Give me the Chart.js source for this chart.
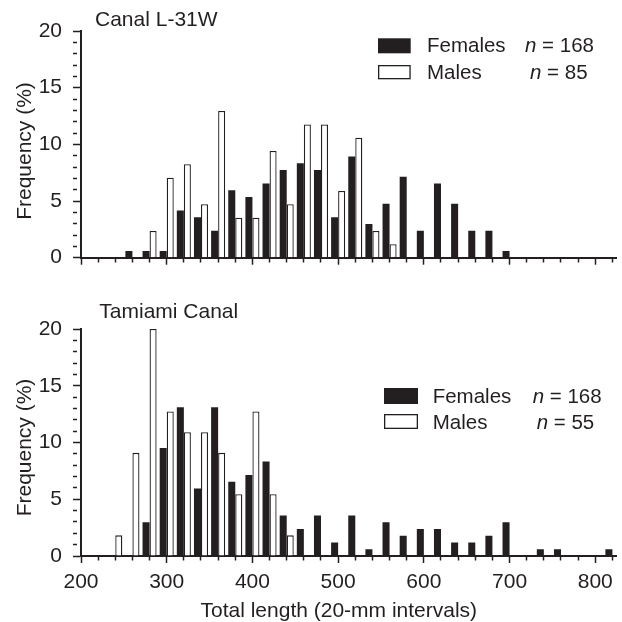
<!DOCTYPE html>
<html>
<head>
<meta charset="utf-8">
<script src="https://cdn.jsdelivr.net/npm/chart.js@4"></script>
<style>
  html, body { margin: 0; padding: 0; background: #ffffff; }
  #wrap { position: relative; width: 622px; height: 622px; overflow: hidden; }
  canvas { position: absolute; left: 0; }
  #c1 { top: 0; }
  #c2 { top: 290px; }
</style>
</head>
<body>
<div id="wrap">
  <canvas id="c1" width="622" height="290"></canvas>
  <canvas id="c2" width="622" height="332"></canvas>
</div>
<script>
// ---- data (frequency in %, per 20-mm length bin) ----
const bins = [200, 220, 240, 260, 280, 300, 320, 340, 360, 380, 400, 420, 440, 460, 480, 500,
              520, 540, 560, 580, 600, 620, 640, 660, 680, 700, 720, 740, 760, 780, 800, 820];

const canalFemales = [0, 0, 0, 0.6, 0.6, 0.6, 4.17, 3.57, 2.38, 5.95, 5.36, 6.55, 7.74, 8.33, 7.74, 3.57,
                      8.93, 2.98, 4.76, 7.14, 2.38, 6.55, 4.76, 2.38, 2.38, 0.6, 0, 0, 0, 0, 0, 0];
const canalMales   = [0, 0, 0, 0, 2.35, 7.06, 8.24, 4.71, 12.94, 3.53, 3.53, 9.41, 4.71, 11.76, 11.76, 5.88,
                      10.59, 2.35, 1.18, 0, 0, 0, 0, 0, 0, 0, 0, 0, 0, 0, 0, 0];

const tamiamiFemales = [0, 0, 0, 0, 2.98, 9.52, 13.10, 5.95, 13.10, 6.55, 7.14, 8.33, 3.57, 2.38, 3.57, 1.19,
                        3.57, 0.6, 2.98, 1.79, 2.38, 2.38, 1.19, 1.19, 1.79, 2.98, 0, 0.6, 0.6, 0, 0, 0.6];
const tamiamiMales   = [0, 0, 1.82, 9.09, 20.0, 12.73, 10.91, 10.91, 9.09, 5.45, 12.73, 5.45, 1.82, 0, 0, 0,
                        0, 0, 0, 0, 0, 0, 0, 0, 0, 0, 0, 0, 0, 0, 0, 0];

const panelTitles = ['Canal L-31W', 'Tamiami Canal'];
const seriesNames = ['Females', 'Males'];
const canalCounts = ['168', '85'];
const tamiamiCounts = ['168', '55'];
const yTitle = 'Frequency (%)';
const xTitle = 'Total length (20-mm intervals)';

// ---- styling ----
const INK = '#231f20';
const FAMILY = '"Liberation Sans", Arial, Helvetica, sans-serif';
Chart.defaults.font.family = FAMILY;
Chart.defaults.font.size = 21;
Chart.defaults.color = INK;

function decorPlugin(cfg) {
  return {
    id: 'decor_' + cfg.key,
    afterDraw(chart) {
      const ctx = chart.ctx;
      ctx.save();
      ctx.fillStyle = INK;
      ctx.textBaseline = 'alphabetic';
      ctx.font = '21px ' + FAMILY;
      // panel title
      ctx.textAlign = 'left';
      ctx.fillText(cfg.title, cfg.titleX, cfg.titleY);
      // y-axis title
      ctx.save();
      ctx.translate(cfg.yTitleX, cfg.yTitleY);
      ctx.rotate(-Math.PI / 2);
      ctx.textAlign = 'center';
      ctx.fillText(yTitle, 0, 0);
      ctx.restore();
      // x-axis title
      if (cfg.xTitle) {
        ctx.textAlign = 'left';
        ctx.fillText(cfg.xTitle, cfg.xTitleX, cfg.xTitleY);
      }
      // legend
      cfg.legend.forEach((row, i) => {
        if (i === 0) {
          ctx.fillStyle = INK;
          ctx.fillRect(row.boxX, row.boxY, row.boxW, row.boxH);
        } else {
          ctx.fillStyle = '#ffffff';
          ctx.fillRect(row.boxX, row.boxY, row.boxW, row.boxH);
          ctx.strokeStyle = INK;
          ctx.lineWidth = 1.3;
          ctx.strokeRect(row.boxX + 0.65, row.boxY + 0.65, row.boxW - 1.3, row.boxH - 1.3);
        }
        ctx.fillStyle = INK;
        ctx.textAlign = 'left';
        ctx.font = '20.5px ' + FAMILY;
        ctx.fillText(seriesNames[i], row.textX, row.base);
        ctx.font = 'italic 20.5px ' + FAMILY;
        ctx.fillText('n', row.nX, row.base);
        const w = ctx.measureText('n').width;
        ctx.font = '20.5px ' + FAMILY;
        ctx.fillText(' = ' + cfg.counts[i], row.nX + w, row.base);
      });
      ctx.restore();
    }
  };
}

function makeChart(id, females, males, layout, decor) {
  const toPoints = arr => bins.map((b, i) => ({ x: b, y: arr[i] }));
  return new Chart(document.getElementById(id), {
    type: 'bar',
    data: {
      datasets: [
        { label: seriesNames[0], data: toPoints(females), backgroundColor: INK, borderColor: INK,
          borderWidth: 0, categoryPercentage: 0.82, barPercentage: 1.0 },
        { label: seriesNames[1], data: toPoints(males), backgroundColor: '#ffffff', borderColor: INK,
          borderWidth: 1.3, categoryPercentage: 0.82, barPercentage: 1.0 }
      ]
    },
    options: {
      responsive: false,
      animation: false,
      events: [],
      layout: { padding: { left: 0, top: layout.top, right: 5.3, bottom: 0 } },
      plugins: { legend: { display: false }, tooltip: { enabled: false }, title: { display: false } },
      scales: {
        x: {
          type: 'linear', min: 200, max: 825, offset: false,
          grid: {
            offset: false, drawOnChartArea: false, drawTicks: true, tickLength: 7,
            tickWidth: 1.5, tickColor: INK, color: INK,
            tickBorderDash: ctx => (ctx.tick && ctx.tick.value % 100 === 0) ? [] : [3.5, 100]
          },
          border: { display: true, color: INK, width: 2 },
          ticks: {
            stepSize: 20, autoSkip: false, maxRotation: 0, minRotation: 0, includeBounds: false,
            padding: 6.4, color: INK, font: { size: 21 },
            callback: v => (layout.labels && v % 100 === 0) ? String(v) : ''
          },
          afterFit: s => { s.height = layout.xHeight; }
        },
        y: {
          min: 0, max: 20,
          grid: {
            drawOnChartArea: false, drawTicks: true, tickLength: 8, tickWidth: 1.5,
            tickColor: INK, color: INK,
            tickBorderDash: ctx => (ctx.tick && ctx.tick.value % 5 === 0) ? [] : [4, 100]
          },
          border: { display: true, color: INK, width: 2 },
          ticks: {
            stepSize: 1, autoSkip: false, padding: 11, color: INK, font: { size: 21 },
            callback: v => (v % 5 === 0) ? String(v) : ''
          },
          afterFit: s => { s.width = 81; }
        }
      }
    },
    plugins: [decorPlugin(decor)]
  });
}

makeChart('c1', canalFemales, canalMales,
  { top: 31, xHeight: 32.3, labels: false },
  {
    key: 'top', title: panelTitles[0], titleX: 95, titleY: 26,
    yTitleX: 30.5, yTitleY: 151, xTitle: null, counts: canalCounts,
    legend: [
      { boxX: 378, boxY: 38.3, boxW: 32.7, boxH: 15, textX: 427, nX: 525, base: 52.3 },
      { boxX: 378, boxY: 65, boxW: 32.7, boxH: 14.3, textX: 427, nX: 530, base: 79 }
    ]
  });

makeChart('c2', tamiamiFemales, tamiamiMales,
  { top: 39, xHeight: 66, labels: true },
  {
    key: 'bottom', title: panelTitles[1], titleX: 99.3, titleY: 28.3,
    yTitleX: 30.5, yTitleY: 157.5, xTitle: xTitle, xTitleX: 200.5, xTitleY: 326.5, counts: tamiamiCounts,
    legend: [
      { boxX: 384, boxY: 98, boxW: 34, boxH: 16, textX: 432.7, nX: 532.7, base: 113.3 },
      { boxX: 384, boxY: 124, boxW: 34, boxH: 15, textX: 432.7, nX: 536.7, base: 139 }
    ]
  });
</script>
</body>
</html>
